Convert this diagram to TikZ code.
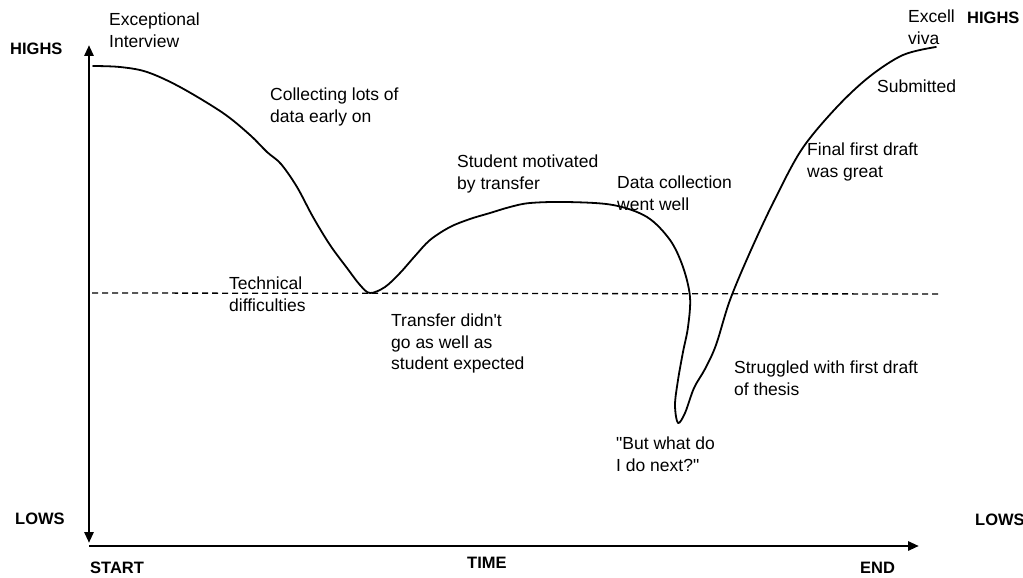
\documentclass[tikz,border=0pt]{standalone}
\usepackage{fontspec}
\setmainfont{Liberation Sans}
\usetikzlibrary{arrows.meta}
\tikzset{
  lbl/.style={anchor=north west, inner sep=0pt, align=left, font=\fontsize{17.5}{21.5}\selectfont},
  axlbl/.style={anchor=north west, inner sep=0pt, font=\fontsize{16.5}{20}\selectfont\bfseries},
  axis/.style={line width=2.8pt},
  curve/.style={line width=1.8pt, line join=round, line cap=round},
  base/.style={line width=1.3pt, dash pattern=on 6pt off 4pt}
}
\begin{document}
\begin{tikzpicture}[x=1pt,y=-1pt]
\useasboundingbox[fill=white] (0,0) rectangle (1023,578);
% axes
\coordinate (vtop) at (89,45);
\coordinate (vbot) at (89,543);
\coordinate (hstart) at (89,546);
\coordinate (hend) at (919,546);
\draw[axis, {Triangle[length=11pt,width=9pt]}-{Triangle[length=11pt,width=9pt]}] (vtop) -- (vbot);
\draw[axis, -{Triangle[length=11pt,width=9pt]}] (hstart) -- (hend);
% baseline
\coordinate (d0) at (92,293);
\coordinate (d1) at (940,294);
\draw[base] (d0) -- (d1);
% curve
\draw[curve] plot[smooth, tension=0.55] coordinates {
(93,66) (120,67) (147,72) (180,87) (223,113) (250,135) (267,152) (281,164)
(297,187) (313,217) (330,245) (347,268) (360,285) (370,293) (385,287) (400,273)
(415,256) (430,240) (450,227) (470,219) (490,213) (510,207) (530,203) (567,202)
(613,205) (647,217) (670,240) (683,267) (690,297) (688,327) (683,352) (678,380)
(675,405) (678,423) (685,413) (694,388) (705,369) (716,345)
(730,300) (751,250) (775,199) (802,149) (836,108) (869,77) (903,55) (936,47)};
% axis labels
\node[axlbl] (highsL) at (10,43) {HIGHS};
\node[axlbl] (highsR) at (967,12) {HIGHS};
\node[axlbl] (lowsL) at (15,513) {LOWS};
\node[axlbl] (lowsR) at (975,514) {LOWS};
\node[axlbl] (start) at (90,562) {START};
\node[axlbl] (time) at (467,557) {TIME};
\node[axlbl] (end) at (860,562) {END};
% annotations
\node[lbl] (exc) at (109,13) {Exceptional\\Interview};
\node[lbl] (coll) at (270,88) {Collecting lots of\\data early on};
\node[lbl] (mot) at (457,155) {Student motivated\\by transfer};
\node[lbl] (dcw) at (617,176) {Data collection\\went well};
\node[lbl] (tech) at (229,277) {Technical\\difficulties};
\node[lbl] (trans) at (391,314) {Transfer didn\textquotesingle t\\go as well as\\student expected};
\node[lbl] (strug) at (734,361) {Struggled with first draft\\of thesis};
\node[lbl] (next) at (616,437) {\textquotedbl But what do\\I do next?\textquotedbl};
\node[lbl] (ffd) at (807,143) {Final first draft\\was great};
\node[lbl] (sub) at (877,80) {Submitted};
\node[lbl] (viva) at (908,10) {Excell\\viva};
\end{tikzpicture}
\end{document}
